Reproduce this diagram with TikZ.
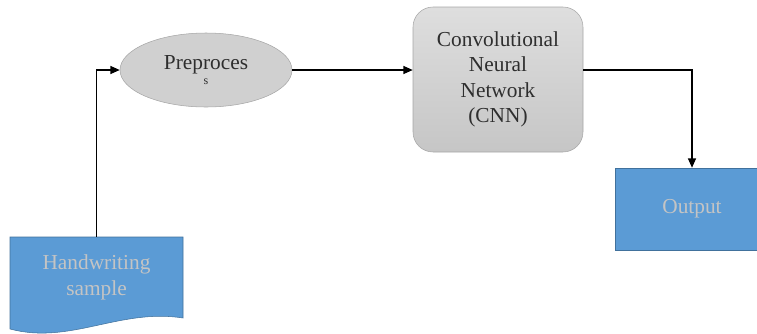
\documentclass[tikz,border=0pt]{standalone}
\usepackage{fontspec}
\setmainfont{Liberation Serif}
\newfontfamily\boxfont{Liberation Serif}
\usetikzlibrary{arrows.meta,shapes.geometric}
\usepackage{xcolor}
\definecolor{blu}{HTML}{5B9BD5}
\definecolor{bluedge}{HTML}{41719C}
\definecolor{greyfill}{HTML}{D0D0D0}
\definecolor{greyedge}{HTML}{A6A6A6}
\definecolor{greytop}{HTML}{DEDEDE}
\definecolor{greybot}{HTML}{C6C6C6}
\definecolor{pale}{HTML}{C4C4C4}
\definecolor{ink}{HTML}{2E2E2E}

\begin{document}
\begin{tikzpicture}[x=0.75pt,y=-0.75pt,font=\boxfont\fontsize{16}{19}\selectfont,
        e/.style={ellipse,draw=greyedge,fill=greyfill,text=ink,align=center,
                  minimum width=129pt,minimum height=55.5pt,inner sep=0pt},
        r/.style={rectangle,rounded corners=15pt,draw=greyedge,top color=greytop,
                  bottom color=greybot,text=ink,align=center,
                  minimum width=127.5pt,minimum height=108.75pt},
        b/.style={rectangle,draw=bluedge,fill=blu,text=pale,align=center,
                  minimum width=115.5pt,minimum height=61.5pt},
        a/.style={-{Triangle[length=7pt,width=6pt]},line width=0.9pt,black}]
        \useasboundingbox (0,0) rectangle (757,333);
        % document shape with wavy bottom
        \filldraw[fill=blu,draw=bluedge] (10,237) -- (183,237) -- (183,318)
            .. controls (120,308) and (70,345) .. (10,329) -- cycle;
        \node[text=pale,align=center,minimum width=129.75pt,minimum height=60.75pt]
            (doc) at (96.5,277.5) {Handwriting\\sample};
        \node[e] (pre) at (206,70) {Preproces\\[-8pt]{\fontsize{9}{9}\selectfont s}};
        \node[r] (cnn) at (498,79.5) {Convolutional\\Neural\\Network\\(CNN)};
        \node[b] (out) at (692,209) {Output};
        \draw[a] (doc.north) |- (pre.west);
        \draw[a] (pre.east) -- (pre.east -| cnn.west);
        \draw[a] (pre.east -| cnn.east) -| (out.north);
\end{tikzpicture}
\end{document}
